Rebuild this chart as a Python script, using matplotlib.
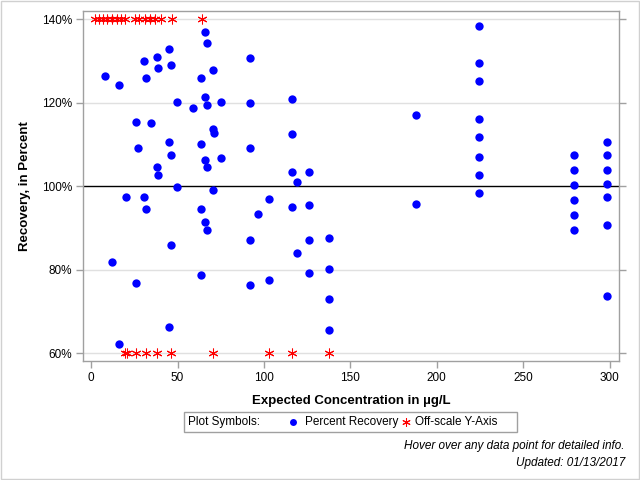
import matplotlib

matplotlib.use("Agg")
import matplotlib.pyplot as plt
from matplotlib.lines import Line2D
from matplotlib.patches import Rectangle
from matplotlib.ticker import FuncFormatter

plt.rcParams["font.family"] = ["Liberation Sans", "DejaVu Sans"]

BLUE = "#0000ff"
RED = "#ff0000"
FRAME = "#a0a0a0"
GRID = "#e0e0e0"
INK = "#000000"

# Percent recovery vs. expected concentration (µg/L)
CONC = [8.1, 12.3, 16.4, 16.4, 20.4, 26.2, 26.2, 27.3, 30.8, 32.0,
        30.8, 32.0, 34.7, 38.3, 38.9, 38.3, 38.9, 45.1, 46.4, 45.1,
        46.4, 46.4, 45.1, 49.9, 49.9, 59.1, 63.8, 63.8, 63.8, 63.8,
        66.1, 67.2, 66.1, 67.2, 66.1, 67.2, 66.1, 67.2, 70.5, 70.7,
        71.3, 70.7, 75.3, 75.3, 92.1, 92.1, 92.1, 92.1, 92.1, 96.4,
        103.1, 103.1, 116.4, 116.4, 116.4, 116.4, 119.2, 119.2, 126.2, 126.2,
        126.2, 126.2, 137.4, 137.4, 137.4, 137.4, 188.0, 188.0,
        224.5, 224.5, 224.5, 224.5, 224.5, 224.5, 224.5, 224.5,
        279.4, 279.4, 279.4, 279.4, 279.4, 279.4,
        298.5, 298.5, 298.5, 298.5, 298.5, 298.5, 298.5]
RECOVERY = [126.3, 81.9, 124.2, 62.2, 97.5, 115.3, 76.9, 109.1, 129.9, 125.9,
            97.5, 94.5, 115.2, 130.9, 128.3, 104.7, 102.6, 132.8, 129.0, 110.7,
            107.6, 86.0, 66.3, 120.1, 99.9, 118.7, 125.9, 110.0, 94.5, 78.6,
            136.9, 134.3, 121.5, 119.4, 106.4, 104.5, 91.4, 89.6, 127.8, 113.7,
            112.7, 99.2, 120.1, 106.7, 130.7, 119.9, 109.1, 87.2, 76.2, 93.4,
            97.0, 77.6, 120.8, 112.5, 103.5, 94.9, 100.9, 84.1, 103.3, 95.4,
            87.2, 79.3, 87.7, 80.2, 73.0, 65.6, 117.0, 95.8,
            138.3, 129.5, 125.1, 116.0, 111.7, 107.1, 102.8, 98.3,
            107.6, 104.0, 100.4, 96.8, 93.2, 89.6,
            110.7, 107.4, 104.0, 100.6, 97.3, 90.6, 73.8]

# Off-scale results, pinned to the top / bottom of the axis
OFF_HIGH_CONC = [2.3, 4.6, 7.1, 9.4, 12.3, 14.9, 17.4, 19.7, 25.5, 27.8,
                 31.3, 34.2, 37.1, 40.5, 46.7, 64.1]
OFF_LOW_CONC = [19.7, 20.8, 26.2, 32.0, 38.3, 46.4, 70.7, 103.1, 116.4, 137.4]
Y_TOP, Y_BOTTOM = 140, 60

X_TICKS = [0, 50, 100, 150, 200, 250, 300]
Y_TICKS = [60, 80, 100, 120, 140]

STAR = (6, 2, 0)


def main() -> None:
    fig = plt.figure(figsize=(6.4, 4.8), dpi=100)
    ax = fig.add_axes([0.1297, 0.2479, 0.8375, 0.7292])
    ax.set_xlim(-4.7, 305.5)
    ax.set_ylim(58.1, 142.0)

    for y in Y_TICKS:
        if y == 100:
            ax.axhline(y, color=INK, linewidth=1.0, zorder=1)
        else:
            ax.axhline(y, color=GRID, linewidth=1.0, zorder=0)

    ax.plot(CONC, RECOVERY, linestyle="none", marker="o", markersize=6.0,
            color=BLUE, markeredgewidth=0, zorder=3)
    ax.plot(OFF_HIGH_CONC, [Y_TOP] * len(OFF_HIGH_CONC), linestyle="none",
            marker=STAR, markersize=7, color=RED, markeredgewidth=0.75, zorder=3)
    ax.plot(OFF_LOW_CONC, [Y_BOTTOM] * len(OFF_LOW_CONC), linestyle="none",
            marker=STAR, markersize=7, color=RED, markeredgewidth=0.75, zorder=3)

    ax.set_xticks(X_TICKS)
    ax.set_yticks(Y_TICKS)
    ax.yaxis.set_major_formatter(FuncFormatter(lambda v, _: f"{v:.0f}%"))
    ax.tick_params(axis="both", labelsize=8.5, color=FRAME, length=5, width=1,
                   pad=3)
    ax.tick_params(axis="y", right=True)
    for s in ax.spines.values():
        s.set_color(FRAME)
        s.set_linewidth(1.0)

    ax.set_xlabel("Expected Concentration in µg/L", fontsize=9.5,
                  fontweight="bold", labelpad=8)
    ax.set_ylabel("Recovery, in Percent", fontsize=9.5, fontweight="bold",
                  labelpad=8)

    # legend box drawn by hand so "Plot Symbols:" sits like a caption
    fig.add_artist(Rectangle((184 / 640, 1 - 432 / 480), 333 / 640, 20 / 480,
                             transform=fig.transFigure, facecolor="white",
                             edgecolor=FRAME, linewidth=1.0))
    ly = 1 - 422 / 480
    fig.text(188 / 640, ly, "Plot Symbols:", fontsize=8.5, va="center")
    fig.add_artist(Line2D([293 / 640], [ly], transform=fig.transFigure,
                          marker="o", markersize=5.0, color=BLUE,
                          markeredgewidth=0, linestyle="none"))
    fig.text(305 / 640, ly, "Percent Recovery", fontsize=8.5, va="center")
    fig.add_artist(Line2D([406 / 640], [ly], transform=fig.transFigure,
                          marker=STAR, markersize=6, color=RED,
                          markeredgewidth=0.75, linestyle="none"))
    fig.text(415 / 640, ly, "Off-scale Y-Axis", fontsize=8.5, va="center")

    fig.text(625 / 640, 1 - 446 / 480,
             "Hover over any data point for detailed info.",
             fontsize=8.5, style="italic", ha="right", va="center")
    fig.text(625 / 640, 1 - 463 / 480, "Updated: 01/13/2017",
             fontsize=8.5, style="italic", ha="right", va="center")

    fig.add_artist(Rectangle((0.0015, 0.002), 0.997, 0.996,
                             transform=fig.transFigure, fill=False,
                             edgecolor="#d0d0d0", linewidth=1.0))

    fig.savefig("out.png", dpi=100, facecolor="white")


if __name__ == "__main__":
    main()
